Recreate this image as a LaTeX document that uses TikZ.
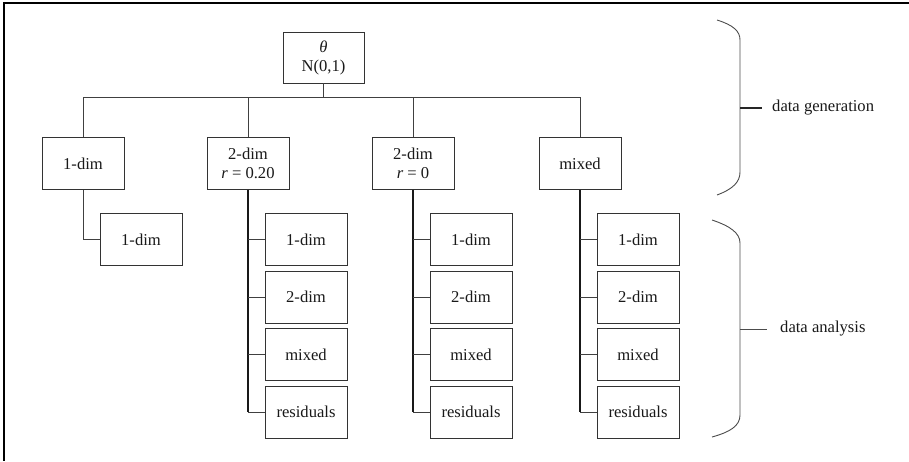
\documentclass[tikz,border=0pt]{standalone}
\usepackage{fontspec}
\setmainfont{Liberation Serif}
\begin{document}
\begin{tikzpicture}[x=1pt,y=-1pt,
  box/.style={draw=black!80, line width=0.9pt, minimum width=82pt, minimum height=52pt,
    inner sep=0pt, align=center, font=\fontsize{16.6}{19}\selectfont, text=black!90},
  link/.style={draw=black!75, line width=0.9pt},
  trunk/.style={draw=black!90, line width=1.6pt},
  brace/.style={draw=black!70, line width=0.9pt},
  lbl/.style={anchor=west, inner sep=0pt, font=\fontsize{16.6}{19}\selectfont, text=black!90}]
\useasboundingbox (0,0) rectangle (909,461);
% frame edges
\draw[line width=2pt, black] (909,3) -- (4,3) -- (4,461);

% root
\node[box, minimum width=81pt, minimum height=51pt] (root) at (323.5,57.5) {\textit{θ}\\N(0,1)};

% first level
\node[box] (a) at (83,163.5) {1-dim};
\node[box] (b) at (248,163.5) {2-dim\\\textit{r} = 0.20};
\node[box] (c) at (413,163.5) {2-dim\\\textit{r} = 0};
\node[box] (d) at (580,163.5) {mixed};

\coordinate (bus) at (0,97);
\draw[link] (a.north) -- (a.north |- bus) -- (d.north |- bus) -- (d.north);
\draw[link] (b.north) -- (b.north |- bus);
\draw[link] (c.north) -- (c.north |- bus);
\draw[link] (root.south) -- (root.south |- bus);

% analysis under 1-dim
\node[box] (a1) at (141,239.5) {1-dim};
\draw[link] (a.south) |- (a1.west);

% analysis columns
\foreach \p/\cx in {b/306, c/471, e/638}{
  \node[box] (\p1) at (\cx,239.5) {1-dim};
  \node[box] (\p2) at (\cx,297) {2-dim};
  \node[box] (\p3) at (\cx,354.5) {mixed};
  \node[box] (\p4) at (\cx,412) {residuals};
}

% trunks and stubs
\draw[trunk] (b.south) -- (b.south |- b4.west);
\draw[trunk] (c.south) -- (c.south |- c4.west);
\draw[trunk] (d.south) -- (d.south |- e4.west);
\foreach \p/\q in {b/b, c/c, e/d}{
  \foreach \k in {1,2,3,4}{
    \draw[link] (\q.south |- \p\k.west) -- (\p\k.west);
  }
}

% braces
\draw[brace] (717,20) .. controls (733,25) and (740,31) .. (740,40) -- (740,172)
  .. controls (740,182) and (733,189) .. (717,195);
\coordinate (gtick) at (762,108);
\draw[line width=1.2pt, black!85] (740,108) -- (gtick);
\node[lbl] (gen) at (772,108) {data generation};

\draw[brace] (712,220) .. controls (730,226) and (740,233) .. (740,243) -- (740,415)
  .. controls (740,426) and (730,432) .. (712,437);
\coordinate (atick) at (767,329);
\draw[brace] (740,329) -- (atick);
\node[lbl] (ana) at (780,329) {data analysis};
\end{tikzpicture}
\end{document}
